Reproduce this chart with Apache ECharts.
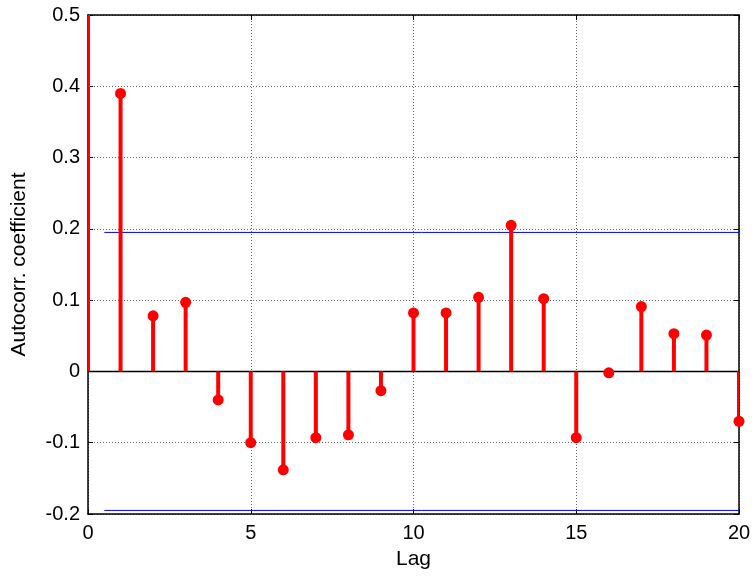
<!DOCTYPE html>
<html><head><meta charset="utf-8">
<script src="https://cdn.jsdelivr.net/npm/echarts@6/dist/echarts.min.js"></script>
<style>html,body{margin:0;padding:0;background:#fff}#c{width:754px;height:580px}</style>
</head><body><div id="c"></div>
<script>
const lags = [0,1,2,3,4,5,6,7,8,9,10,11,12,13,14,15,16,17,18,19,20];
const acf = [1,0.390,0.078,0.097,-0.040,-0.100,-0.138,-0.093,-0.089,-0.027,0.082,0.082,0.104,0.205,0.102,-0.093,-0.002,0.091,0.053,0.051,-0.070];
const bound = 0.195;
const boundStart = 0.5;
const xTicks = [0,5,10,15,20];
const yTicks = [-0.2,-0.1,0,0.1,0.2,0.3,0.4,0.5];

const pts = lags.map((l,i)=>[l,acf[i]]);
const font = 'Liberation Sans, Arial, sans-serif';
const chart = echarts.init(document.getElementById('c'), null, {renderer:'canvas'});
const axisBase = {
  axisLine:{show:true,onZero:false,lineStyle:{color:'#000',width:1.5}},
  axisTick:{show:true,inside:true,length:5,lineStyle:{color:'#000'}},
};
chart.setOption({
  animation:false,
  grid:{left:88,right:15,top:15,bottom:66,show:false},
  xAxis:[
    Object.assign({type:'value',min:xTicks[0],max:xTicks[xTicks.length-1],interval:5,position:'bottom',
      name:'Lag',nameLocation:'middle',nameGap:35,
      nameTextStyle:{fontFamily:font,fontSize:21,color:'#000'},
      axisLabel:{fontFamily:font,fontSize:20,color:'#000',margin:9},
      splitLine:{show:true,lineStyle:{type:[1,2],color:'#666',width:1}}},axisBase),
    Object.assign({type:'value',min:0,max:20,interval:5,position:'top',axisLabel:{show:false},splitLine:{show:false}},axisBase)
  ],
  yAxis:[
    Object.assign({type:'value',min:yTicks[0],max:yTicks[yTicks.length-1],interval:0.1,position:'left',
      name:'Autocorr. coefficient',nameLocation:'middle',nameGap:58,nameRotate:90,
      nameTextStyle:{fontFamily:font,fontSize:21,color:'#000'},
      axisLabel:{fontFamily:font,fontSize:20,color:'#000',margin:8,
        formatter:v=>{const r=Math.round(v*10)/10; return r===0?'0':String(r);}},
      splitLine:{show:true,lineStyle:{type:[1,2],color:'#666',width:1}}},axisBase),
    Object.assign({type:'value',min:-0.2,max:0.5,interval:0.1,position:'right',axisLabel:{show:false},splitLine:{show:false}},axisBase)
  ],
  series:[
    {type:'line',data:[[lags[0],0],[lags[lags.length-1],0]],symbol:'none',lineStyle:{color:'#000',width:1.5},z:3,silent:true},
    {type:'line',data:[[boundStart,bound],[lags[lags.length-1],bound]],symbol:'none',lineStyle:{color:'#0000ff',width:1},z:3},
    {type:'line',data:[[boundStart,-bound],[lags[lags.length-1],-bound]],symbol:'none',lineStyle:{color:'#0000ff',width:1},z:3},
    {type:'custom',data:pts,clip:true,z:4,
      renderItem:(params,api)=>{
        const p0=api.coord([api.value(0),0]);
        const p1=api.coord([api.value(0),api.value(1)]);
        return {type:'line',shape:{x1:p0[0],y1:p0[1],x2:p1[0],y2:p1[1]},style:{stroke:'#ff0000',lineWidth:4}};
      }},
    {type:'scatter',data:pts,clip:true,symbol:'circle',symbolSize:11,itemStyle:{color:'#ff0000',opacity:1},z:5}
  ]
});
</script></body></html>
